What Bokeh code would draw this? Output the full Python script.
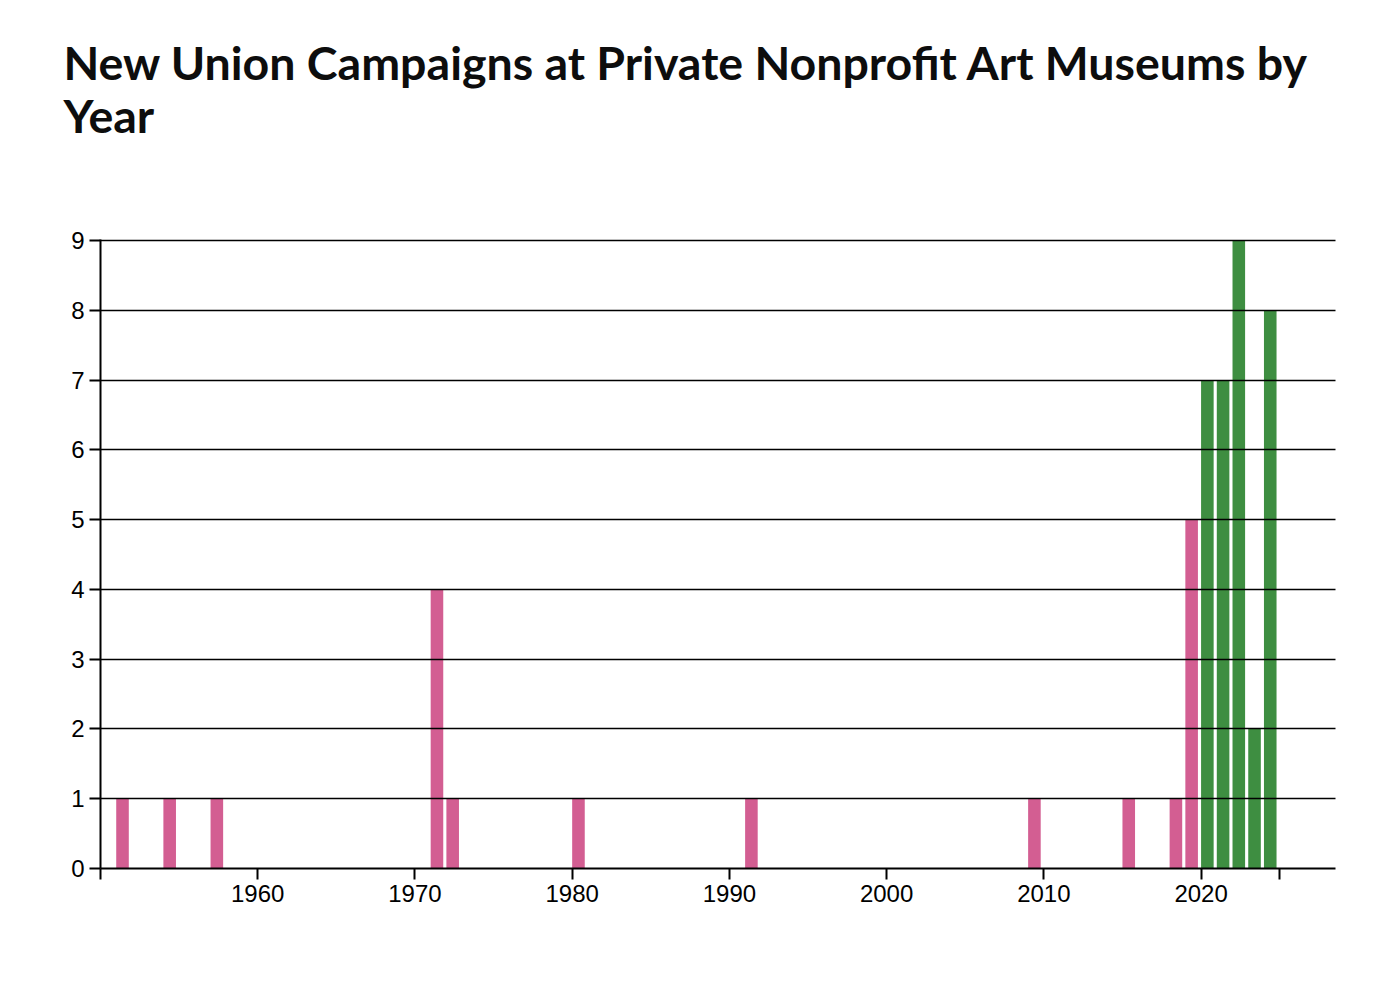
from bokeh.plotting import figure
from bokeh.models import Title, FixedTicker, ColumnDataSource, Range1d
from bokeh.embed import file_html
from bokeh.resources import INLINE

years = [1951, 1954, 1957, 1971, 1972, 1980, 1991, 2009, 2015, 2018, 2019,
         2020, 2021, 2022, 2023, 2024]
campaigns = [1, 1, 1, 4, 1, 1, 1, 1, 1, 1, 5, 7, 7, 9, 2, 8]
x_ticks = [1950, 1960, 1970, 1980, 1990, 2000, 2010, 2020, 2025]
y_ticks = [0, 1, 2, 3, 4, 5, 6, 7, 8, 9]
title_text = "New Union Campaigns at Private Nonprofit Art Museums by\nYear"

PINK = "#d35e92"
GREEN = "#3e8e41"
colors = [GREEN if y >= 2020 else PINK for y in years]
src = ColumnDataSource(dict(
    left=[y + 0.0 for y in years],
    right=[y + 0.8 for y in years],
    top=campaigns,
    color=colors,
))

p = figure(frame_width=1235, frame_height=629, output_backend="svg",
           toolbar_location=None, title=None,
           x_range=Range1d(1950, 2028.55), y_range=Range1d(0, 9.015))
p.min_border_left = 100
p.min_border_right = 45
p.min_border_bottom = 60
p.min_border_top = 10
p.outline_line_color = None

p.quad(left="left", right="right", bottom=0, top="top", fill_color="color",
       line_color=None, source=src)

FONT = "Liberation Sans"
TITLE_FONT = "Lato"
spacer = Title(text=" ", text_font_size="12px", standoff=49)
t1 = Title(text=title_text, text_font=TITLE_FONT, text_font_size="46.5px",
           text_font_style="bold", text_color="#0d0d0d", offset=-37,
           standoff=63, text_line_height=0.95)
p.add_layout(spacer, "above")
p.add_layout(t1, "above")

p.xaxis.ticker = FixedTicker(ticks=x_ticks)
p.xaxis.major_label_overrides = {1950: "", 2025: ""}
p.yaxis.ticker = FixedTicker(ticks=y_ticks)
for ax in (p.xaxis, p.yaxis):
    ax.axis_line_color = "black"
    ax.axis_line_width = 2
    ax.major_tick_line_color = "black"
    ax.major_tick_line_width = 2
    ax.major_tick_in = 0
    ax.major_tick_out = 11
    ax.minor_tick_line_color = None
    ax.major_label_text_font = FONT
    ax.major_label_text_font_size = "24px"
    ax.major_label_text_color = "black"
p.yaxis.major_label_standoff = 5
p.xaxis.major_label_standoff = 5

p.xgrid.grid_line_color = None
p.ygrid.ticker = FixedTicker(ticks=y_ticks)
p.ygrid.grid_line_color = "black"
p.ygrid.grid_line_width = 1.5
p.ygrid.level = "overlay"

open("out.html", "w").write(file_html(p, INLINE))
